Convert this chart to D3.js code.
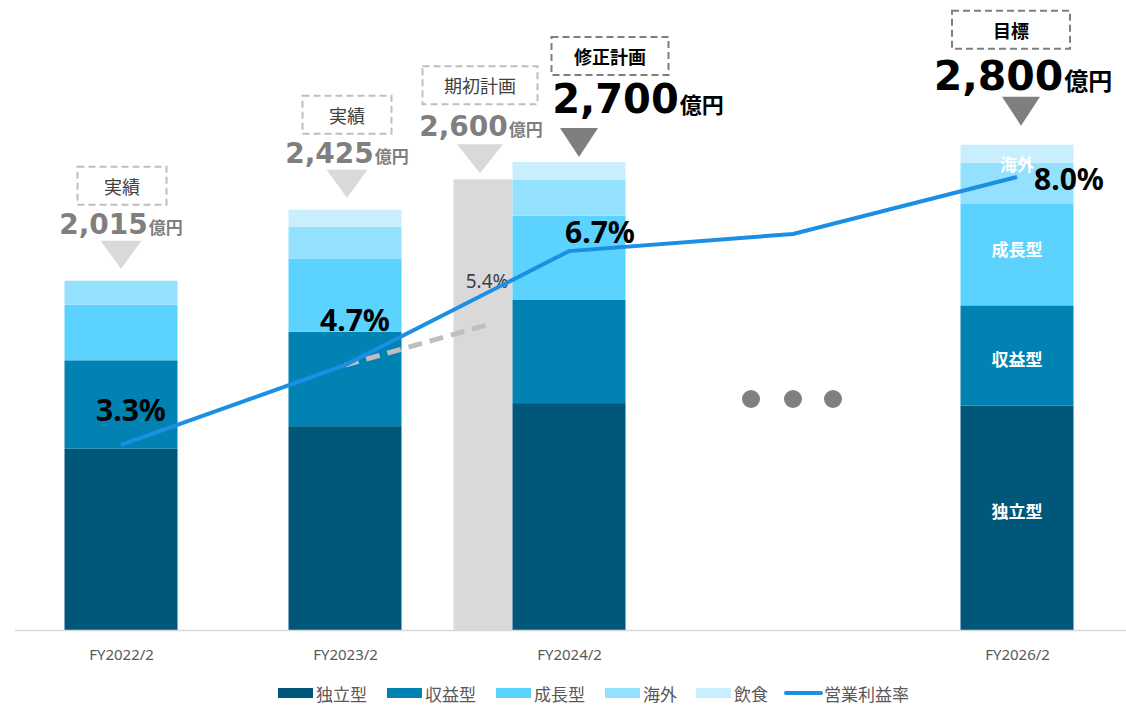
<!DOCTYPE html>
<html>
<head>
<meta charset="utf-8">
<script src="https://cdn.jsdelivr.net/npm/d3@7"></script>
<style>
  body { margin: 0; background: #fff; }
  svg { display: block; }
</style>
</head>
<body>
<svg id="chart" width="1126" height="706"></svg>
<script>
// ---- data (億円 / %) ----
const categories = ["FY2022/2", "FY2023/2", "FY2024/2", "FY2025/2", "FY2026/2"];
const tickLabels = ["FY2022/2", "FY2023/2", "FY2024/2", "FY2026/2"];
const seriesNames = ["独立型", "収益型", "成長型", "海外", "飲食"];
const dokuritsu = [1046, 1176, 1309, null, 1295];
const shueki    = [510, 545, 595, null, 578];
const seicho    = [321, 420, 486, null, 585];
const kaigai    = [138, 186, 206, null, 237];
const inshoku   = [0, 98, 104, null, 105];
const totals    = [2015, 2425, 2700, null, 2800];
const planTotal = 2600;          // FY2024/2 期初計画
const marginRate = [3.3, 4.7, 6.7, 7.0, 8.0];
const marginLabels = ["3.3%", "4.7%", "6.7%", null, "8.0%"];
const planMargin = 5.4;
const planMarginLabel = "5.4%";
const headTags = ["実績", "実績", "修正計画", null, "目標"];
const planTag = "期初計画";
const legendNames = ["独立型", "収益型", "成長型", "海外", "飲食", "営業利益率"];

// ---- styling ----
const colors = ["#00577a", "#0082b3", "#5cd3fe", "#93e1ff", "#c9effe"];
const lineColor = "#1a8fe3";
const planGray = "#d9d9d9";
const numFont = "'DejaVu Sans', Verdana, sans-serif";
const jpFont = "'Noto Sans CJK JP', 'Noto Sans', sans-serif";

const svg = d3.select("#chart");
const W = 1126, baseY = 630;

const x = d3.scalePoint().domain(categories).range([121, 1017]);
const y = d3.scaleLinear().domain([0, 3000]).range([baseY, baseY - 3000 * 0.17333]);
const yPct = d3.scaleLinear().domain([0, 10]).range([633, 63]);
const barW = 113, planW = 59;

// ---- stacked bars ----
const rows = categories.map((c, i) => ({
  cat: c,
  "独立型": dokuritsu[i], "収益型": shueki[i], "成長型": seicho[i],
  "海外": kaigai[i], "飲食": inshoku[i]
})).filter(r => r["独立型"] != null);

const stack = d3.stack().keys(seriesNames);
const layers = stack(rows);

// FY2024/2 plan bar (grey), immediately left of the actual bar
svg.append("rect")
  .attr("x", x("FY2024/2") - barW / 2 - planW)
  .attr("y", y(planTotal))
  .attr("width", planW)
  .attr("height", baseY - y(planTotal))
  .attr("fill", planGray);

const gBars = svg.append("g");
layers.forEach((layer, li) => {
  gBars.selectAll(null).data(layer).enter().append("rect")
    .attr("x", d => x(d.data.cat) - barW / 2)
    .attr("y", d => y(d[1]))
    .attr("width", barW)
    .attr("height", d => Math.max(0, y(d[0]) - y(d[1])))
    .attr("fill", colors[li]);
});

// baseline
svg.append("line")
  .attr("x1", 15).attr("x2", W)
  .attr("y1", baseY + 0.5).attr("y2", baseY + 0.5)
  .attr("stroke", "#d9d9d9").attr("stroke-width", 1.5);

// x axis labels
const xAxis = d3.axisBottom(x).tickValues(tickLabels).tickSize(0).tickPadding(19);
const gx = svg.append("g").attr("transform", `translate(0,${baseY})`).call(xAxis);
gx.select(".domain").remove();
gx.selectAll("text")
  .attr("font-family", "'Noto Sans', sans-serif")
  .attr("font-size", 15)
  .attr("fill", "#595959");

// segment names inside the FY2026/2 bar
const lastRow = layers.map(l => l[l.length - 1]);
const segLabelShift = { "独立型": -7, "収益型": 3, "成長型": -6, "海外": -20 };
seriesNames.forEach((name, li) => {
  if (!(name in segLabelShift)) return;
  const d = lastRow[li];
  svg.append("text")
    .attr("x", x("FY2026/2"))
    .attr("y", (y(d[0]) + y(d[1])) / 2 + segLabelShift[name])
    .attr("text-anchor", "middle")
    .attr("dominant-baseline", "central")
    .attr("font-family", jpFont)
    .attr("font-weight", 700)
    .attr("font-size", 17)
    .attr("fill", "#fff")
    .text(name);
});

// ---- operating margin lines ----
// planned margin (dashed grey) from FY2023/2 to the plan bar
const planX = x("FY2024/2") - barW / 2 - planW / 2;
svg.append("path")
  .datum([[x("FY2023/2"), marginRate[1]], [planX + 3, planMargin]])
  .attr("d", d3.line().x(d => d[0]).y(d => yPct(d[1])))
  .attr("fill", "none")
  .attr("stroke", "#bfbfbf")
  .attr("stroke-width", 5)
  .attr("stroke-dasharray", "14 8");

svg.append("text")
  .attr("x", planX + 4)
  .attr("y", yPct(planMargin) - 37)
  .attr("text-anchor", "middle")
  .attr("font-family", "'Noto Sans', sans-serif")
  .attr("font-size", 19)
  .attr("fill", "#404040")
  .text(planMarginLabel);

svg.append("path")
  .datum(categories.map((c, i) => [x(c), marginRate[i]]))
  .attr("d", d3.line().x(d => d[0]).y(d => yPct(d[1])))
  .attr("fill", "none")
  .attr("stroke", lineColor)
  .attr("stroke-width", 4);

const pctLabelOffset = [[10, -24], [10, -34], [31, -8], null, [52, 13]];
categories.forEach((c, i) => {
  if (!marginLabels[i]) return;
  svg.append("text")
    .attr("x", x(c) + pctLabelOffset[i][0])
    .attr("y", yPct(marginRate[i]) + pctLabelOffset[i][1])
    .attr("text-anchor", "middle")
    .attr("font-family", "'Noto Sans', sans-serif")
    .attr("font-weight", 700)
    .attr("font-size", 30)
    .attr("fill", "#000")
    .text(marginLabels[i]);
});

// ellipsis between FY2024/2 and FY2026/2
[-38, 4, 44].forEach(dx => {
  svg.append("circle")
    .attr("cx", x("FY2025/2") + dx - 4)
    .attr("cy", 399)
    .attr("r", 9)
    .attr("fill", "#7f7f7f");
});

// ---- headline annotations ----
function formatTotal(v) { return d3.format(",")(v); }

function annotate(o) {
  const top = y(o.value) + (o.shift || 0);
  const g = svg.append("g");
  // dashed tag box
  g.append("rect")
    .attr("x", o.cx + o.boxDx - o.boxW / 2)
    .attr("y", top + o.boxTop)
    .attr("width", o.boxW)
    .attr("height", 38)
    .attr("fill", "#fff")
    .attr("stroke", o.dark ? "#7f7f7f" : "#bfbfbf")
    .attr("stroke-width", 2)
    .attr("stroke-dasharray", "7 4");
  g.append("text")
    .attr("x", o.cx + o.boxDx)
    .attr("y", top + o.boxTop + 19)
    .attr("text-anchor", "middle")
    .attr("dominant-baseline", "central")
    .attr("font-family", jpFont)
    .attr("font-weight", o.dark ? 700 : 400)
    .attr("font-size", 18)
    .attr("fill", o.dark ? "#000" : "#404040")
    .text(o.tag);
  // total value
  const t = g.append("text")
    .attr("x", o.cx + o.numDx)
    .attr("y", top + o.numBase)
    .attr("text-anchor", "middle")
    .attr("fill", o.dark ? "#000" : "#7f7f7f")
    .attr("font-weight", 700);
  t.append("tspan")
    .attr("font-family", numFont)
    .attr("font-size", o.numSize)
    .text(formatTotal(o.value));
  t.append("tspan")
    .attr("font-family", jpFont)
    .attr("font-size", o.unitSize)
    .attr("dx", 1)
    .text("億円");
  // pointer triangle
  const tx = o.cx + o.triDx, ty = top + o.triTop;
  g.append("path")
    .attr("d", `M${tx - o.triW / 2},${ty} L${tx + o.triW / 2},${ty} L${tx},${ty + o.triH} Z`)
    .attr("fill", o.dark ? "#7f7f7f" : "#d9d9d9");
}

const smallStyle = { boxW: 89, boxTop: -114, numBase: -47, numSize: 28, unitSize: 17, triTop: -40, triW: 41, triH: 28 };
annotate({ ...smallStyle, value: totals[0], tag: headTags[0], cx: x(categories[0]), boxDx: 1, numDx: 0, triDx: 0 });
annotate({ ...smallStyle, value: totals[1], tag: headTags[1], cx: x(categories[1]), boxDx: 2, numDx: 2, triDx: 2 });
annotate({ ...smallStyle, value: planTotal, tag: planTag, cx: planX, boxW: 115, boxTop: -113, numBase: -43,
  boxDx: -3, numDx: -2, triDx: -3, triTop: -35, triW: 46, triH: 29 });
annotate({ value: totals[2], tag: headTags[2], dark: true, cx: x(categories[2]), boxW: 117, boxTop: -125,
  boxDx: 41, numBase: -49, numSize: 40, unitSize: 22, numDx: 69, triDx: 10, triTop: -34, triW: 38, triH: 29 });
annotate({ value: totals[4], tag: headTags[4], dark: true, cx: x(categories[4]), shift: -10, boxW: 118, boxTop: -124,
  boxDx: -6, numBase: -45, numSize: 41, unitSize: 24, numDx: 6, triDx: 4, triTop: -38, triW: 38, triH: 29 });

// ---- legend ----
const legendX = [278, 387, 496, 605, 696, 786];
const legend = svg.append("g");
legendNames.forEach((name, i) => {
  const lx = legendX[i];
  if (i < 5) {
    legend.append("rect")
      .attr("x", lx).attr("y", 688).attr("width", 35).attr("height", 10)
      .attr("fill", colors[i]);
  } else {
    legend.append("line")
      .attr("x1", lx).attr("x2", lx + 35)
      .attr("y1", 693).attr("y2", 693)
      .attr("stroke", lineColor).attr("stroke-width", 4)
      .attr("stroke-linecap", "round");
  }
  legend.append("text")
    .attr("x", lx + 38)
    .attr("y", 693)
    .attr("dominant-baseline", "central")
    .attr("font-family", jpFont)
    .attr("font-size", 17)
    .attr("fill", "#595959")
    .text(name);
});
</script>
</body>
</html>
